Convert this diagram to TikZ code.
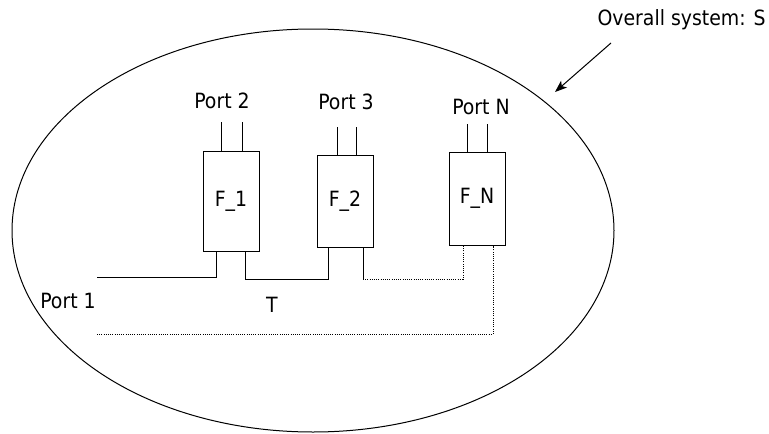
\documentclass[tikz,border=0pt]{standalone}
\usepackage{fontspec}
\setmainfont{DejaVu Sans Condensed}
\usetikzlibrary{arrows.meta}
\begin{document}
\begin{tikzpicture}[x=1pt,y=-1pt,line width=1pt,
  fbox/.style={draw,minimum width=56pt,minimum height=96pt,inner sep=0pt,font=\fontsize{21}{25}\selectfont},
  lbl/.style={inner sep=0pt,font=\fontsize{21}{25}\selectfont},
  dots/.style={line width=0.9pt,dash pattern=on 1pt off 1.2pt}]
\useasboundingbox (0,0) rectangle (769,434);
% overall system ellipse
\draw (313,230.5) ellipse [x radius=301, y radius=201.5];
% boxes
\node[fbox,minimum height=100pt] (F1) at (231,201) {F\_1};
\node[fbox,minimum height=92pt] (F2) at (345,201) {F\_2};
\node[fbox,minimum height=93pt] (FN) at (477,198.5) {F\_N};
% labels
\node[lbl] (lp2) at (222,101) {Port 2};
\node[lbl] (lp3) at (346,102) {Port 3};
\node[lbl] (lpN) at (481,107) {Port N};
\node[lbl] (lp1) at (68,301) {Port 1};
\node[lbl] (lT) at (272,305) {T};
\node[lbl,anchor=west] (lS) at (597,20) {Overall system: S};
% top leads
\coordinate (a1) at (221,122); \coordinate (a2) at (242,122);
\coordinate (b1) at (337,127); \coordinate (b2) at (356,127);
\coordinate (c1) at (467,124); \coordinate (c2) at (487,124);
\draw (a1) -- (a1 |- F1.north);
\draw (a2) -- (a2 |- F1.north);
\draw (b1) -- (b1 |- F2.north);
\draw (b2) -- (b2 |- F2.north);
\draw (c1) -- (c1 |- FN.north);
\draw (c2) -- (c2 |- FN.north);
% bottom connections
\coordinate (p1) at (97,277);
\coordinate (d1) at (216,277);
\coordinate (d2) at (245,279);
\coordinate (e1) at (328,279);
\coordinate (e2) at (363,279);
\coordinate (g1) at (463,279);
\coordinate (g2) at (493,334);
\coordinate (t1) at (97,334);
\draw (p1) -- (d1) -- (d1 |- F1.south);
\draw (d2 |- F1.south) -- (d2) -- (e1) -- (e1 |- F2.south);
\draw (e2 |- F2.south) -- (e2);
\draw[dots] (e2) -- (g1) -- (g1 |- FN.south);
\draw[dots] (t1) -- (g2) -- (g2 |- FN.south);
% arrow
\coordinate (s0) at (611,43);
\coordinate (s1) at (555,92);
\draw[-{Stealth[length=12pt,width=9pt,inset=3pt]}] (s0) -- (s1);
\end{tikzpicture}
\end{document}
